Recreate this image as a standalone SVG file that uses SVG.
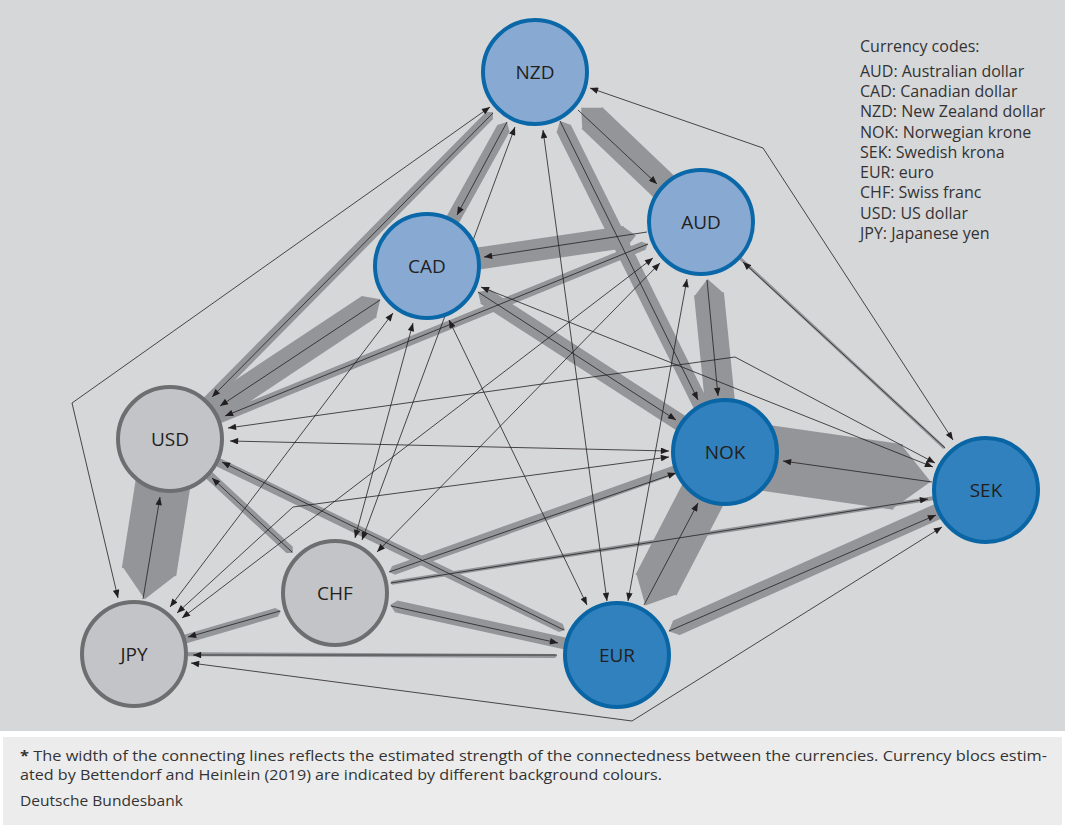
<svg xmlns="http://www.w3.org/2000/svg" width="1065" height="831" viewBox="0 0 1065 831">
<defs>
<style>
.band{stroke:#939598;fill:none;stroke-linecap:butt;marker-start:url(#tip)}
.ln{stroke:#231f20;stroke-width:0.8;fill:none;marker-end:url(#ah)}
.dl{stroke:#231f20;stroke-width:0.8;fill:none;marker-start:url(#ah);marker-end:url(#ah)}
.n1 circle{fill:#88aad2;stroke:#0a68a9;stroke-width:4}
.n2 circle{fill:#3081bd;stroke:#0a65a5;stroke-width:4}
.n3 circle{fill:#c3c4c7;stroke:#6d6e70;stroke-width:4}
.lbl{font-family:"Open Sans","Liberation Sans",sans-serif;font-size:19px;fill:#231f20;text-anchor:middle}
.leg{font-family:"Open Sans","Liberation Sans",sans-serif;font-size:16px;fill:#333333}
.ft{font-family:"Open Sans","Liberation Sans",sans-serif;font-size:14px;fill:#333333}
</style>
<marker id="tip" viewBox="-1 -1 2 2" refX="0" refY="0" markerWidth="2" markerHeight="2" markerUnits="strokeWidth" orient="auto"><path d="M0.03,-0.5 L-0.5,0 L0.03,0.5 Z" fill="#939598"/></marker>
<marker id="ah" viewBox="0 0 10 8" refX="10" refY="4" markerWidth="9" markerHeight="6.5" markerUnits="userSpaceOnUse" orient="auto-start-reverse"><path d="M0,0 L10,4 L0,8 Z" fill="#231f20"/></marker>
</defs>
<rect x="0" y="0" width="1065" height="731" fill="#d6d7d9"/>
<rect x="3" y="737" width="1059" height="88" fill="#ececed"/>
<g id="connectors">
<g id="bands">
<line class="band" x1="592" y1="118" x2="701" y2="222" stroke-width="30"/>
<line class="band" x1="898" y1="477" x2="725" y2="452" stroke-width="66"/>
<line class="band" x1="149" y1="572" x2="170" y2="439" stroke-width="55"/>
<line class="band" x1="656" y1="585" x2="725" y2="452" stroke-width="46"/>
<line class="band" x1="676" y1="628" x2="986" y2="490" stroke-width="16"/>
<line class="band" x1="563.6" y1="128.2" x2="707" y2="417" stroke-width="16"/>
<line class="band" x1="709" y1="294" x2="725" y2="452" stroke-width="30"/>
<line class="band" x1="485.1" y1="296.6" x2="700.6" y2="435.9" stroke-width="17"/>
<line class="band" x1="625" y1="237" x2="427" y2="266" stroke-width="22"/>
<line class="band" x1="643.8" y1="245.7" x2="170" y2="439" stroke-width="9"/>
<line class="band" x1="369.5" y1="306.5" x2="170" y2="439" stroke-width="26"/>
<line class="band" x1="489.5" y1="115.5" x2="170" y2="439" stroke-width="10"/>
<line class="band" x1="503.6" y1="128.1" x2="427" y2="266" stroke-width="14"/>
<line class="band" x1="289.7" y1="550" x2="170" y2="439" stroke-width="9"/>
<line class="band" x1="561" y1="628" x2="170" y2="439" stroke-width="9"/>
<line class="band" x1="276.7" y1="612.3" x2="134" y2="654" stroke-width="9"/>
<line class="band" x1="396" y1="606.3" x2="617" y2="655" stroke-width="12"/>
<line class="band" x1="393.3" y1="570.6" x2="725" y2="452" stroke-width="9"/>
<line class="band" x1="392" y1="582.7" x2="986" y2="490" stroke-width="4"/>
<line class="band" x1="555" y1="656" x2="134" y2="654" stroke-width="4"/>
<line class="band" x1="944" y1="447.6" x2="701" y2="222" stroke-width="3"/>
</g>
<g id="arrows">
<line class="ln" x1="578" y1="110" x2="657" y2="184"/>
<line class="ln" x1="932" y1="482" x2="783" y2="461"/>
<line class="ln" x1="143" y1="599" x2="160" y2="497"/>
<line class="ln" x1="644" y1="605" x2="698" y2="503"/>
<line class="ln" x1="669" y1="631" x2="936" y2="515"/>
<line class="ln" x1="560" y1="121" x2="698" y2="400"/>
<line class="ln" x1="707" y1="280" x2="718" y2="396"/>
<line class="ln" x1="478" y1="292" x2="676" y2="420"/>
<line class="ln" x1="647" y1="232" x2="484" y2="257"/>
<line class="ln" x1="648" y1="244" x2="225" y2="416"/>
<line class="ln" x1="380" y1="300" x2="220" y2="406"/>
<line class="ln" x1="493" y1="113" x2="212" y2="397"/>
<line class="ln" x1="507" y1="122" x2="457" y2="215"/>
<line class="ln" x1="292" y1="552" x2="212" y2="478"/>
<line class="ln" x1="564" y1="630" x2="222" y2="462"/>
<line class="ln" x1="280" y1="611" x2="188" y2="637"/>
<line class="ln" x1="391" y1="606" x2="558" y2="643"/>
<line class="ln" x1="389" y1="572" x2="676" y2="473"/>
<line class="ln" x1="391" y1="583" x2="928" y2="499"/>
<line class="ln" x1="557" y1="655" x2="193" y2="655"/>
<line class="ln" x1="945" y1="448" x2="743" y2="262" stroke-width="1.3"/>
</g>
<g id="links">
<polyline class="dl" points="490,107 72,403 118,598"/>
<polyline class="dl" points="590,88 763,148 953,440"/>
<polyline class="dl" points="191,663 632,721 942,527"/>
<polyline class="dl" points="228,428 735,357 935,463"/>
<polyline class="dl" points="177,613 293,507 669,457"/>
<line class="dl" x1="362" y1="540" x2="515" y2="127"/>
<line class="dl" x1="543" y1="130" x2="607" y2="601"/>
<line class="dl" x1="687" y1="279" x2="628" y2="601"/>
<line class="dl" x1="449" y1="320" x2="587" y2="605"/>
<line class="dl" x1="481" y1="287" x2="933" y2="467"/>
<line class="dl" x1="230" y1="441" x2="669" y2="451"/>
<line class="dl" x1="170" y1="607" x2="393" y2="313"/>
<line class="dl" x1="182" y1="618" x2="653" y2="258"/>
<line class="dl" x1="377" y1="552" x2="660" y2="263"/>
<line class="dl" x1="355" y1="538" x2="413" y2="323"/>
</g>
</g>
<g id="NZD" class="n1"><circle cx="535" cy="72" r="52"/><text class="lbl" x="535" y="79">NZD</text></g>
<g id="AUD" class="n1"><circle cx="701" cy="222" r="52"/><text class="lbl" x="701" y="229">AUD</text></g>
<g id="CAD" class="n1"><circle cx="427" cy="266" r="52"/><text class="lbl" x="427" y="273">CAD</text></g>
<g id="NOK" class="n2"><circle cx="725" cy="452" r="52"/><text class="lbl" x="725" y="459">NOK</text></g>
<g id="SEK" class="n2"><circle cx="986" cy="490" r="52"/><text class="lbl" x="986" y="497">SEK</text></g>
<g id="EUR" class="n2"><circle cx="617" cy="655" r="52"/><text class="lbl" x="617" y="662">EUR</text></g>
<g id="USD" class="n3"><circle cx="170" cy="439" r="52"/><text class="lbl" x="170" y="446">USD</text></g>
<g id="CHF" class="n3"><circle cx="335" cy="593" r="52"/><text class="lbl" x="335" y="600">CHF</text></g>
<g id="JPY" class="n3"><circle cx="134" cy="654" r="52"/><text class="lbl" x="134" y="661">JPY</text></g>
<g id="legend">
<text class="leg" x="860" y="52">Currency codes:</text>
<text class="leg" x="860" y="77">AUD: Australian dollar</text>
<text class="leg" x="860" y="97">CAD: Canadian dollar</text>
<text class="leg" x="860" y="117">NZD: New Zealand dollar</text>
<text class="leg" x="860" y="138">NOK: Norwegian krone</text>
<text class="leg" x="860" y="158">SEK: Swedish krona</text>
<text class="leg" x="860" y="178">EUR: euro</text>
<text class="leg" x="860" y="198">CHF: Swiss franc</text>
<text class="leg" x="860" y="219">USD: US dollar</text>
<text class="leg" x="860" y="239">JPY: Japanese yen</text>
</g>
<g id="footer">
<text class="ft" x="20" y="761" textLength="1027" lengthAdjust="spacingAndGlyphs"><tspan font-weight="bold">*</tspan> The width of the connecting lines reflects the estimated strength of the connectedness between the currencies. Currency blocs estim-</text>
<text class="ft" x="20" y="780" textLength="642" lengthAdjust="spacingAndGlyphs">ated by Bettendorf and Heinlein (2019) are indicated by different background colours.</text>
<text class="ft" x="20" y="806" textLength="163" lengthAdjust="spacingAndGlyphs">Deutsche Bundesbank</text>
</g>
</svg>
